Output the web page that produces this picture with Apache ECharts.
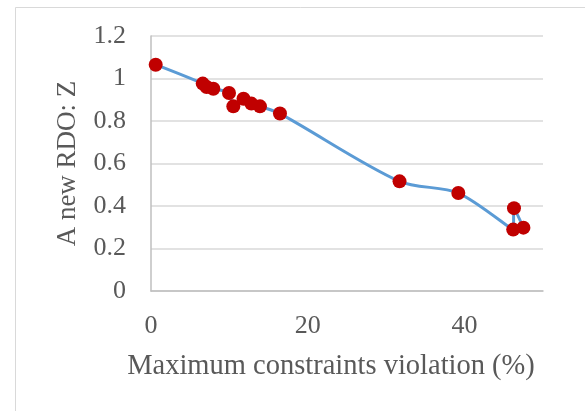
<!DOCTYPE html>
<html>
<head>
<meta charset="utf-8">
<script src="https://cdn.jsdelivr.net/npm/echarts@6/dist/echarts.min.js"></script>
<style>
  html, body { margin: 0; padding: 0; background: #fff; }
  #chart { width: 585px; height: 411px; }
</style>
</head>
<body>
<div id="chart"></div>
<script>
// violation (%) and Z, in the order the line joins them
var violation = [0.6, 6.6, 7.1, 7.95, 9.95, 10.5, 11.8, 12.8, 13.9, 16.45, 31.7, 39.2, 46.2, 46.3, 47.5];
var rdoZ = [1.065, 0.976, 0.96, 0.952, 0.932, 0.869, 0.905, 0.882, 0.869, 0.835, 0.516, 0.461, 0.289, 0.39, 0.298];
var xTicks = [0, 20, 40];
var yTicks = [0, 0.2, 0.4, 0.6, 0.8, 1, 1.2];

var points = violation.map(function (v, i) { return [v, rdoZ[i]]; });

var chart = echarts.init(document.getElementById('chart'));
var font = '"Liberation Serif", "Times New Roman", serif';

chart.setOption({
  backgroundColor: '#ffffff',
  animation: false,
  graphic: [
    {
      type: 'rect',
      shape: { x: 15.5, y: 7.5, width: 600, height: 420 },
      style: { fill: 'none', stroke: '#d9d9d9', lineWidth: 1 },
      silent: true
    },
    {
      type: 'text',
      x: 331, y: 367,
      style: {
        text: 'Maximum constraints violation (%)',
        font: '28.5px ' + font,
        fill: '#595959',
        align: 'center',
        verticalAlign: 'middle'
      }
    }
  ],
  grid: { left: 151, right: 42, top: 36, bottom: 120 },
  xAxis: {
    type: 'value',
    min: 0,
    max: 50,
    interval: 20,
    axisLine: { lineStyle: { color: '#bfbfbf', width: 1.5 } },
    axisTick: { show: false },
    splitLine: { show: false },
    axisLabel: {
      color: '#595959',
      fontFamily: font,
      fontSize: 26,
      margin: 22,
      showMaxLabel: false,
      formatter: function (v) { return xTicks.indexOf(v) >= 0 ? String(v) : ''; }
    }
  },
  yAxis: {
    type: 'value',
    min: 0,
    max: 1.2,
    interval: 0.2,
    name: 'A new RDO: Z',
    nameLocation: 'middle',
    nameGap: 70,
    nameTextStyle: { color: '#595959', fontFamily: font, fontSize: 27 },
    axisLine: { show: true, lineStyle: { color: '#bfbfbf', width: 1.5 } },
    axisTick: { show: false },
    splitLine: { lineStyle: { color: '#d9d9d9', width: 1.5 } },
    axisLabel: {
      color: '#595959',
      fontFamily: font,
      fontSize: 26,
      margin: 25,
      formatter: function (v) {
        var t = yTicks.find(function (y) { return Math.abs(y - v) < 1e-9; });
        return t === undefined ? '' : String(t);
      }
    }
  },
  series: [{
    type: 'line',
    data: points,
    smooth: 0.3,
    symbol: 'circle',
    symbolSize: 14,
    lineStyle: { color: '#5b9bd5', width: 3 },
    itemStyle: { color: '#c00000', borderWidth: 0 },
    z: 3
  }]
});
</script>
</body>
</html>
